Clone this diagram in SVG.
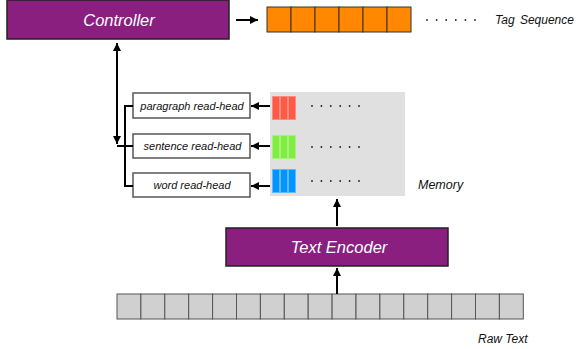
<svg xmlns="http://www.w3.org/2000/svg" width="578" height="349" viewBox="0 0 578 349">
<style>
.lbl{font-family:"Liberation Sans",Arial,sans-serif;font-style:italic;}
.w{fill:#fff;font-size:16.5px;}
.k{fill:#111;}
.purple{fill:#8A1F80;stroke:#222;stroke-width:1.5;}
.head{fill:#fff;stroke:#555;stroke-width:1.5;}
.cellO{fill:#FF8800;stroke:#333;stroke-width:1;}
.cellG{fill:#D0D0D0;stroke:#555;stroke-width:1;}
.conn{fill:none;stroke:#000;stroke-width:2;}
.dot{fill:#222;}
</style>
<defs>
<marker id="ah" viewBox="0 0 10 10" refX="10" refY="5" markerWidth="4" markerHeight="4" orient="auto-start-reverse" markerUnits="strokeWidth">
<path d="M0,0 L10,5 L0,10 z" fill="#000"/>
</marker>
</defs>

<g id="controller">
<rect class="purple" x="7" y="0" width="222" height="39"/>
<text class="lbl w" x="119" y="26" text-anchor="middle">Controller</text>
</g>

<g id="tag-sequence">
<rect class="cellO" x="267" y="7" width="24" height="25"/>
<rect class="cellO" x="291" y="7" width="24" height="25"/>
<rect class="cellO" x="315" y="7" width="24" height="25"/>
<rect class="cellO" x="339" y="7" width="24" height="25"/>
<rect class="cellO" x="363" y="7" width="24" height="25"/>
<rect class="cellO" x="387" y="7" width="24" height="25"/>
<g class="dot">
<circle cx="427" cy="20" r="0.9"/><circle cx="436.6" cy="20" r="0.9"/><circle cx="446.2" cy="20" r="0.9"/><circle cx="455.8" cy="20" r="0.9"/><circle cx="465.4" cy="20" r="0.9"/><circle cx="475" cy="20" r="0.9"/>
</g>
<text class="lbl k" x="495" y="24" font-size="12" word-spacing="2">Tag Sequence</text>
</g>

<g id="memory">
<rect x="270" y="92" width="135" height="104" fill="#E0E0E0"/>
<g stroke="#FF8A80" stroke-width="1" fill="#FF5A48">
<rect x="272.5" y="96.5" width="7" height="23"/><rect x="280.5" y="96.5" width="7" height="23"/><rect x="288.5" y="96.5" width="7" height="23"/>
</g>
<g stroke="#A8F080" stroke-width="1" fill="#80EE40">
<rect x="272.5" y="135.5" width="7" height="23"/><rect x="280.5" y="135.5" width="7" height="23"/><rect x="288.5" y="135.5" width="7" height="23"/>
</g>
<g stroke="#60B8FF" stroke-width="1" fill="#0094FF">
<rect x="272.5" y="169.5" width="7" height="23"/><rect x="280.5" y="169.5" width="7" height="23"/><rect x="288.5" y="169.5" width="7" height="23"/>
</g>
<g class="dot">
<circle cx="312" cy="106" r="0.9"/><circle cx="321.4" cy="106" r="0.9"/><circle cx="330.8" cy="106" r="0.9"/><circle cx="340.2" cy="106" r="0.9"/><circle cx="349.6" cy="106" r="0.9"/><circle cx="359" cy="106" r="0.9"/>
<circle cx="312" cy="147" r="0.9"/><circle cx="321.4" cy="147" r="0.9"/><circle cx="330.8" cy="147" r="0.9"/><circle cx="340.2" cy="147" r="0.9"/><circle cx="349.6" cy="147" r="0.9"/><circle cx="359" cy="147" r="0.9"/>
<circle cx="312" cy="181" r="0.9"/><circle cx="321.4" cy="181" r="0.9"/><circle cx="330.8" cy="181" r="0.9"/><circle cx="340.2" cy="181" r="0.9"/><circle cx="349.6" cy="181" r="0.9"/><circle cx="359" cy="181" r="0.9"/>
</g>
<text class="lbl k" x="418" y="189" font-size="12.5">Memory</text>
</g>

<g id="paragraph-read-head">
<rect class="head" x="133" y="93" width="117" height="25"/>
<text class="lbl k" x="192" y="110" font-size="11" text-anchor="middle">paragraph read-head</text>
</g>
<g id="sentence-read-head">
<rect class="head" x="133" y="134" width="117" height="24"/>
<text class="lbl k" x="192.5" y="150" font-size="11" text-anchor="middle">sentence read-head</text>
</g>
<g id="word-read-head">
<rect class="head" x="133" y="173" width="117" height="24"/>
<text class="lbl k" x="192" y="189" font-size="11" text-anchor="middle">word read-head</text>
</g>

<g id="text-encoder">
<rect class="purple" x="226" y="228" width="222" height="38"/>
<text class="lbl w" x="339" y="253" font-size="16" text-anchor="middle">Text Encoder</text>
</g>

<g id="raw-text">
<rect class="cellG" x="117" y="294" width="23.9" height="25"/>
<rect class="cellG" x="140.9" y="294" width="23.9" height="25"/>
<rect class="cellG" x="164.8" y="294" width="23.9" height="25"/>
<rect class="cellG" x="188.7" y="294" width="23.9" height="25"/>
<rect class="cellG" x="212.6" y="294" width="23.9" height="25"/>
<rect class="cellG" x="236.5" y="294" width="23.9" height="25"/>
<rect class="cellG" x="260.4" y="294" width="23.9" height="25"/>
<rect class="cellG" x="284.3" y="294" width="23.9" height="25"/>
<rect class="cellG" x="308.2" y="294" width="23.9" height="25"/>
<rect class="cellG" x="332.1" y="294" width="23.9" height="25"/>
<rect class="cellG" x="356" y="294" width="23.9" height="25"/>
<rect class="cellG" x="379.9" y="294" width="23.9" height="25"/>
<rect class="cellG" x="403.8" y="294" width="23.9" height="25"/>
<rect class="cellG" x="427.7" y="294" width="23.9" height="25"/>
<rect class="cellG" x="451.6" y="294" width="23.9" height="25"/>
<rect class="cellG" x="475.5" y="294" width="23.9" height="25"/>
<rect class="cellG" x="499.4" y="294" width="23.9" height="25"/>
<text class="lbl k" x="478" y="343" font-size="12">Raw Text</text>
</g>

<g id="connectors">
<line class="conn" x1="236" y1="20" x2="258" y2="20" marker-end="url(#ah)"/>
<line class="conn" x1="117" y1="43" x2="117" y2="144" marker-start="url(#ah)" marker-end="url(#ah)"/>
<polyline class="conn" points="133,106 125,106 125,186 133,186"/>
<line class="conn" x1="117" y1="146" x2="133" y2="146"/>
<line class="conn" x1="270" y1="106" x2="251" y2="106" marker-end="url(#ah)"/>
<line class="conn" x1="270" y1="146" x2="251" y2="146" marker-end="url(#ah)"/>
<line class="conn" x1="270" y1="186" x2="251" y2="186" marker-end="url(#ah)"/>
<line class="conn" x1="337" y1="226" x2="337" y2="199" marker-end="url(#ah)"/>
<line class="conn" x1="337" y1="294" x2="337" y2="268" marker-end="url(#ah)"/>
</g>
</svg>
